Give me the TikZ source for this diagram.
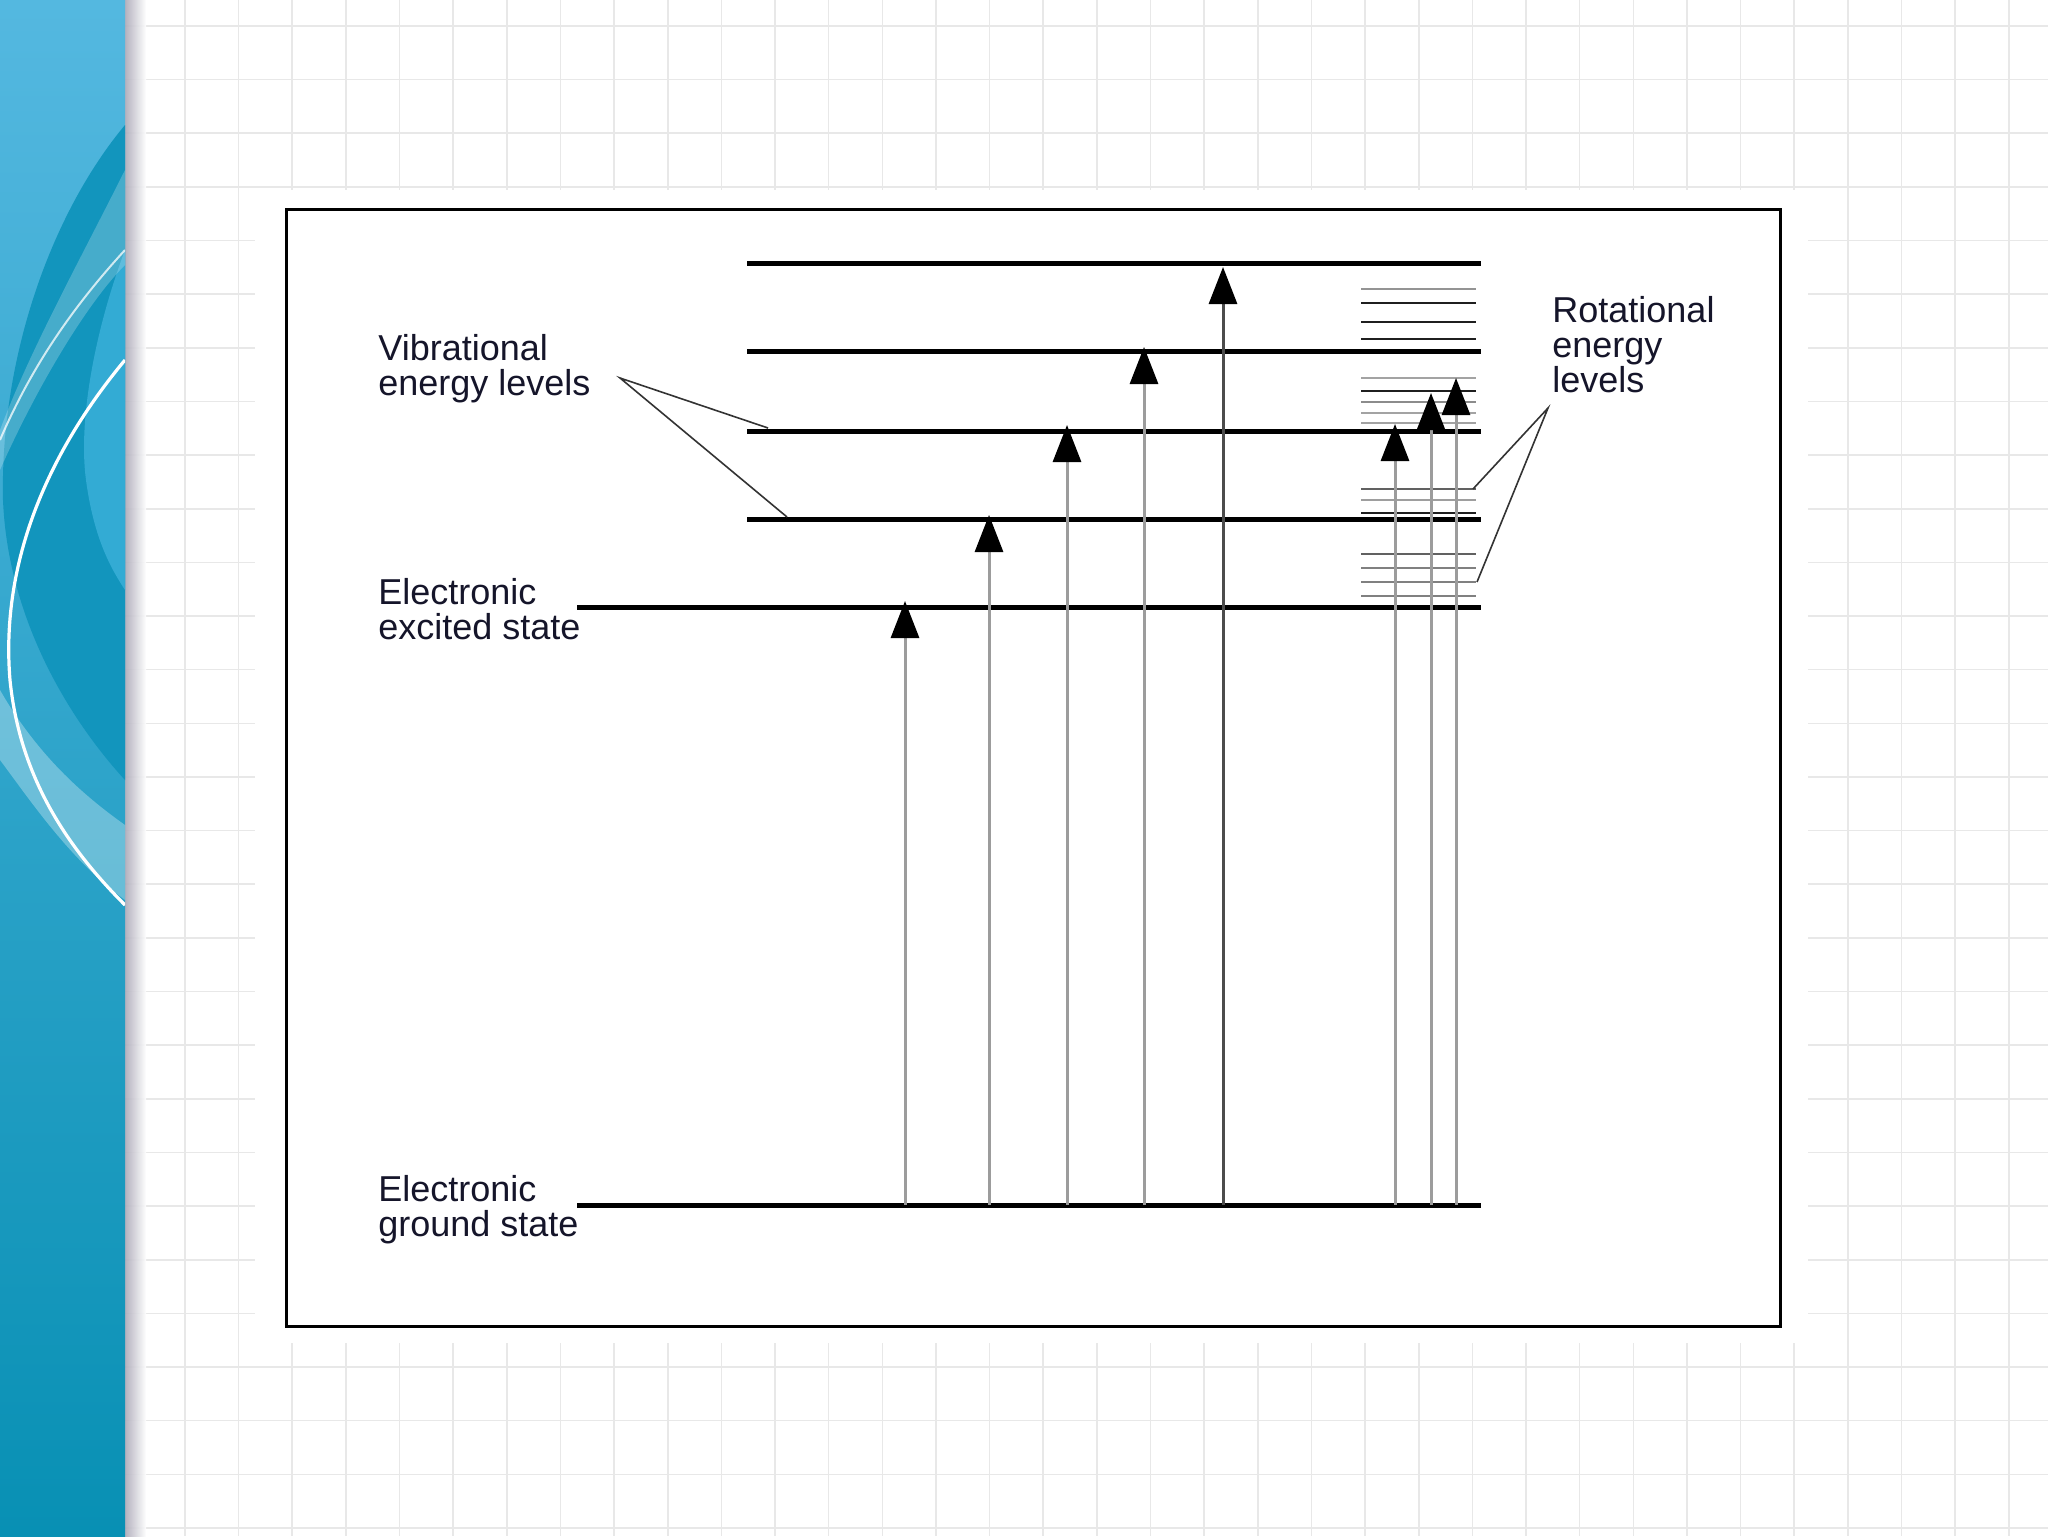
\documentclass[tikz,border=0pt]{standalone}
\usepackage{fontspec}
\setmainfont{Liberation Sans}
\usetikzlibrary{arrows.meta}
\definecolor{panelTop}{HTML}{54B8E0}
\definecolor{panelMid}{HTML}{22A5CF}
\definecolor{panelBot}{HTML}{0890B4}
\definecolor{panelDark}{HTML}{1295BD}
\definecolor{panelMidBlue}{HTML}{33ABD4}
\definecolor{shadowc}{RGB}{172,170,184}
\definecolor{gridc}{HTML}{E8E8E8}
\definecolor{txt}{HTML}{15152A}
\definecolor{shaft}{HTML}{9C9C9C}
\begin{document}
\begin{tikzpicture}[x=0.5pt,y=-0.5pt,
  level/.style={line width=2.5pt,black},
  rotline/.style={line width=1.2pt,draw=#1},
  shaftline/.style={line width=1.5pt,draw=shaft,-{Triangle[length=18.5pt,width=14pt,color=black]}},
  pointer/.style={line width=0.8pt,draw=black!80},
  lbl/.style={anchor=base west,inner sep=0pt,text=txt,font=\fontsize{18pt}{17.5pt}\selectfont}]
\useasboundingbox (0,0) rectangle (2048,1536);
% page background
\fill[white] (0,0) rectangle (2048,1536);
% grid
\foreach \i in {0,...,34} \draw[gridc,line width=0.8pt] ({185+53.64*\i},0) -- ({185+53.64*\i},1536);
\foreach \k in {0,...,28} \draw[gridc,line width=0.8pt] (125,{26+53.64*\k}) -- (2048,{26+53.64*\k});
% shadow of the panel
\shade[left color=shadowc,right color=white,opacity=0.9] (125,0) rectangle (146,1536);
% white sheet behind the figure
\fill[white] (255,190) rectangle (1808,1343);
% left panel
\shade[top color=panelTop,middle color=panelMid,bottom color=panelBot] (0,0) rectangle (125,1536);
\begin{scope}
  \clip (0,0) rectangle (125,1536);
  \fill[panelDark] (125,125) .. controls (50,215) and (0,360) .. (3,500)
     .. controls (8,620) and (70,720) .. (125,780) -- cycle;
  \fill[panelMidBlue] (125,250) .. controls (95,330) and (78,420) .. (86,480)
     .. controls (94,540) and (112,570) .. (125,590) -- cycle;
  \fill[white,opacity=0.22] (125,170) .. controls (80,260) and (30,350) .. (0,430)
     -- (0,470) .. controls (40,380) and (90,300) .. (125,265) -- cycle;
  \draw[white,opacity=0.75,line width=1pt] (125,250) .. controls (70,310) and (30,370) .. (0,440);
  \fill[white,opacity=0.3] (0,690) .. controls (40,760) and (90,800) .. (125,825)
     -- (125,900) .. controls (70,860) and (30,800) .. (0,760) -- cycle;
  \draw[white,line width=1.6pt] (125,360) .. controls (50,450) and (0,560) .. (10,680)
     .. controls (20,780) and (70,850) .. (125,905);
\end{scope}
% figure frame
\draw[line width=1.5pt,fill=white] (286,209) rectangle (1780,1326);
% electronic and vibrational levels
\coordinate (g0) at (577,1205);  \coordinate (g1) at (1481,1205);
\coordinate (e0) at (577,607);   \coordinate (e1) at (1481,607);
\coordinate (v1a) at (747,519);  \coordinate (v1b) at (1481,519);
\coordinate (v2a) at (747,431);  \coordinate (v2b) at (1481,431);
\coordinate (v3a) at (747,351);  \coordinate (v3b) at (1481,351);
\coordinate (v4a) at (747,263);  \coordinate (v4b) at (1481,263);
\draw[level] (g0) -- (g1);
\draw[level] (e0) -- (e1);
\draw[level] (v1a) -- (v1b);
\draw[level] (v2a) -- (v2b);
\draw[level] (v3a) -- (v3b);
\draw[level] (v4a) -- (v4b);
% rotational levels
\foreach \yy/\cc in {289/black!42,303/black!88,322/black!88,339/black!88,
                     378/black!36,391/black!88,402/black!45,413/black!36,423/black!36,
                     489/black!62,500/black!38,513/black!88,
                     554/black!62,568/black!50,582/black!50,596/black!50}
  \draw[rotline=\cc] (1361,\yy) -- (1476,\yy);
% transitions
\coordinate (s1) at (905,1205);  \coordinate (t1) at (905,601);
\coordinate (s2) at (989,1205);  \coordinate (t2) at (989,515);
\coordinate (s3) at (1067,1205); \coordinate (t3) at (1067,425);
\coordinate (s4) at (1144,1205); \coordinate (t4) at (1144,347);
\coordinate (s5) at (1223,1205); \coordinate (t5) at (1223,267);
\coordinate (r1) at (1395,1205); \coordinate (q1) at (1395,424);
\coordinate (r2) at (1431,1205); \coordinate (q2) at (1431,393);
\coordinate (r3) at (1456,1205); \coordinate (q3) at (1456,378);
\draw[shaftline] (s1) -- (t1);
\draw[shaftline] (s2) -- (t2);
\draw[shaftline] (s3) -- (t3);
\draw[shaftline] (s4) -- (t4);
\draw[shaftline,draw=black!70] (s5) -- (t5);
\draw[shaftline] (r1) -- (q1);
\draw[shaftline] (r2) -- (q2);
\draw[shaftline] (r3) -- (q3);
% labels
\node[lbl] (vib) at (378,360) {\vtop{\hbox{Vibrational}\hbox{energy levels}}};
\node[lbl] (exc) at (378,604) {\vtop{\hbox{Electronic}\hbox{excited state}}};
\node[lbl] (gnd) at (378,1201) {\vtop{\hbox{Electronic}\hbox{ground state}}};
\node[lbl] (rot) at (1552,322) {\vtop{\hbox{Rotational}\hbox{energy}\hbox{levels}}};
% pointers
\coordinate (vibApex) at (620,378);
\coordinate (vibEnd1) at (768,428);
\coordinate (vibEnd2) at (787,517);
\coordinate (rotApex) at (1548,408);
\coordinate (rotEnd1) at (1473,489);
\coordinate (rotEnd2) at (1477,582);
\draw[pointer] (vibEnd1) -- (vibApex) -- (vibEnd2);
\draw[pointer] (rotEnd1) -- (rotApex) -- (rotEnd2);
\end{tikzpicture}
\end{document}
